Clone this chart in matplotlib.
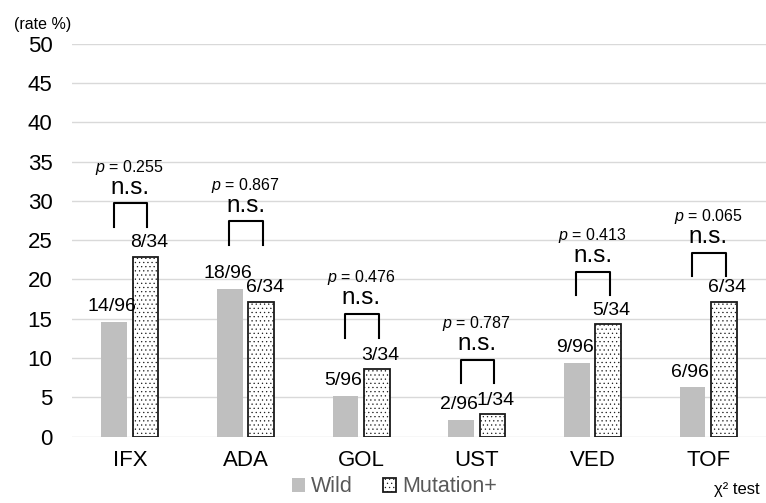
import matplotlib
matplotlib.use("Agg")
import matplotlib.pyplot as plt
import numpy as np

# data
drugs = ['IFX', 'ADA', 'GOL', 'UST', 'VED', 'TOF']
wild_rate = [14.58, 18.75, 5.21, 2.08, 9.38, 6.25]
mut_rate = [22.86, 17.14, 8.57, 2.86, 14.29, 17.14]
wild_labels = ['14/96', '18/96', '5/96', '2/96', '9/96', '6/96']
mut_labels = ['8/34', '6/34', '3/34', '1/34', '5/34', '6/34']
p_values = ['0.255', '0.867', '0.476', '0.787', '0.413', '0.065']

# where the significance brackets sit (bottom of the legs)
bracket_base = [26.7, 24.4, 12.6, 6.8, 18.0, 20.4]

plt.rcParams['font.family'] = ['Liberation Sans', 'DejaVu Sans']
plt.rcParams['mathtext.fontset'] = 'custom'
plt.rcParams['mathtext.it'] = 'Liberation Sans:italic'
plt.rcParams['mathtext.rm'] = 'Liberation Sans'
plt.rcParams['hatch.linewidth'] = 0.4

fig = plt.figure(figsize=(7.66, 5.03), dpi=100)
ax = fig.add_axes([0.094, 0.132, 0.906, 0.781])

x = np.arange(len(drugs))
w = 0.22
off = 0.135

ax.bar(x - off, wild_rate, width=w, color='#BFBFBF', label='Wild', zorder=3)
ax.bar(x + off, mut_rate, width=w, color='white', edgecolor='#1a1a1a',
       linewidth=1.3, hatch='....', label='Mutation+', zorder=3)

for i in range(len(drugs)):
    ax.annotate(wild_labels[i], (x[i] - off - 0.02, wild_rate[i]), xytext=(0, 5),
                textcoords='offset points', ha='center', va='bottom', fontsize=14)
    ax.annotate(mut_labels[i], (x[i] + off + 0.03, mut_rate[i]), xytext=(0, 4),
                textcoords='offset points', ha='center', va='bottom', fontsize=14)
    b = bracket_base[i]
    ax.plot([x[i] - 0.14, x[i] - 0.14, x[i] + 0.15, x[i] + 0.15],
            [b, b + 3, b + 3, b], color='black', lw=1.5, zorder=4)
    ax.text(x[i], b + 5.0, 'n.s.', ha='center', va='center', fontsize=17.5)
    ax.text(x[i], b + 7.6, '$p$ = ' + p_values[i], ha='center', va='center', fontsize=11.5)

ax.set_xlim(-0.5, len(drugs) - 0.5)
ax.set_ylim(0, 50)
ax.set_yticks(range(0, 51, 5))
ax.set_xticks(x)
ax.set_xticklabels(drugs)
ax.tick_params(axis='y', length=0, pad=14, labelsize=16)
ax.tick_params(axis='x', length=0, pad=10, labelsize=16)
ax.grid(axis='y', color='#D9D9D9', lw=1.0, zorder=0)
for s in ax.spines.values():
    s.set_visible(False)

fig.text(0.056, 0.952, '(rate %)', ha='center', va='center', fontsize=11.5)
fig.text(0.962, 0.026, 'χ² test', ha='center', va='center', fontsize=12)

leg = fig.legend(loc='center', bbox_to_anchor=(0.515, 0.032), ncol=2, frameon=False,
                 fontsize=15.5, handlelength=0.6, handleheight=0.6, handletextpad=0.3,
                 columnspacing=1.4, labelcolor='#595959')

fig.savefig('out.png', dpi=100)
